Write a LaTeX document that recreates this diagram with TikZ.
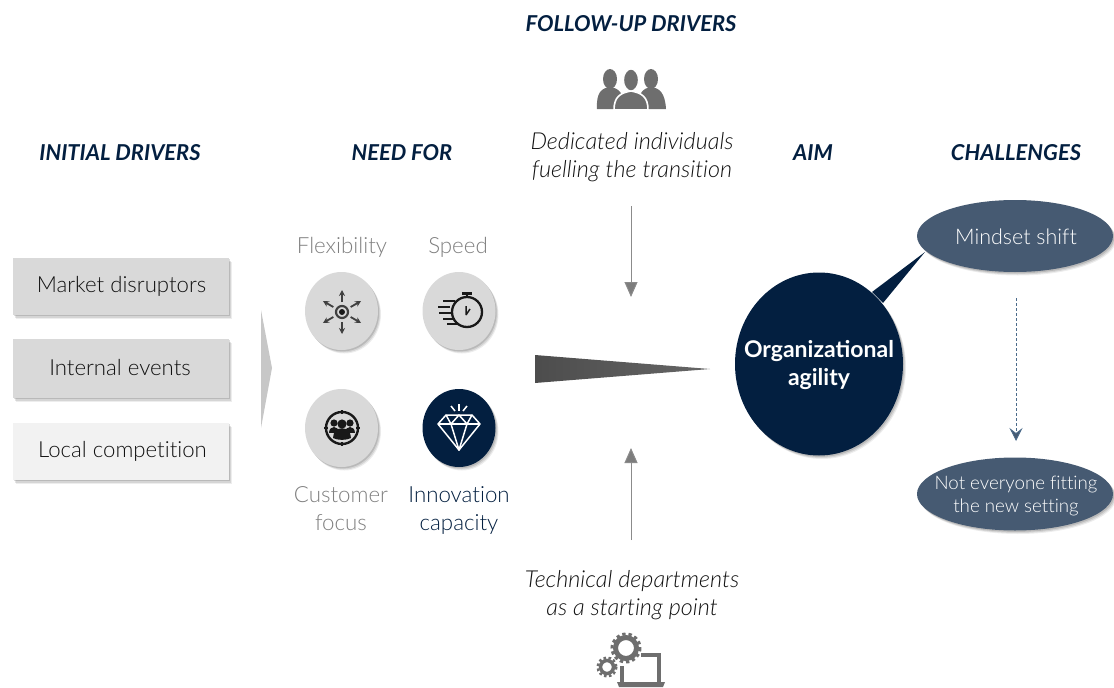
\documentclass[tikz,border=0pt]{standalone}
\usepackage{fontspec}
\setmainfont{Lato}[UprightFont={* Light},ItalicFont={* Light Italic},BoldFont={*},BoldItalicFont={* Bold Italic},Ligatures=NoCommon]
\newfontfamily\boldf{Lato Bold}
\usetikzlibrary{shapes.geometric,shadows,arrows.meta,fadings}
\definecolor{navy}{HTML}{031F40}
\definecolor{slate}{HTML}{465A72}
\definecolor{dashc}{HTML}{4A6A8A}
\definecolor{boxg}{HTML}{D9D9D9}
\definecolor{boxl}{HTML}{F2F2F2}
\definecolor{icong}{HTML}{6E6E6E}
\definecolor{txt}{HTML}{111111}
\definecolor{mut}{HTML}{7F7F7F}
\tikzset{
  softshadow/.style={drop shadow={shadow xshift=3pt,shadow yshift=-3.5pt,fill=black,opacity=.07},
                     drop shadow={shadow xshift=2.2pt,shadow yshift=-2.5pt,fill=black,opacity=.10},
                     drop shadow={shadow xshift=1.2pt,shadow yshift=-1.4pt,fill=black,opacity=.13}},
  header/.style={font=\fontsize{21.9}{26}\selectfont\boldf\itshape,text=navy,inner sep=0pt},
  drvbox/.style={rectangle,minimum width=216pt,inner sep=0pt,softshadow},
  drvtext/.style={text=txt,inner sep=0pt,font=\fontsize{22.2}{28}\selectfont},
  needcirc/.style={ellipse,minimum width=73pt,minimum height=78pt,inner sep=0pt,fill=boxg,softshadow},
  needlab/.style={align=center,text=mut,inner sep=0pt,font=\fontsize{22.3}{28}\selectfont},
  sidelab/.style={align=center,text=txt,inner sep=0pt,font=\fontsize{23.4}{28}\selectfont\itshape},
  chall/.style={ellipse,minimum width=196pt,fill=slate,inner sep=0pt,softshadow},
  flow/.style={draw=icong!80,line width=1pt,-{Triangle[length=15pt,width=13pt,fill=icong!90]}},
}
\begin{document}
\begin{tikzpicture}[x=1pt,y=-1pt]
\useasboundingbox (0,0) rectangle (1114,688);
% headers
\node[header] (h1) at (120,153) {INITIAL DRIVERS};
\node[header] (h2) at (402,153) {NEED FOR};
\node[header] (h3) at (631,24) {FOLLOW-UP DRIVERS};
\node[header] (h4) at (813,153) {AIM};
\node[header] (h5) at (1016,153) {CHALLENGES};
% driver boxes
\node[drvbox,fill=boxg,minimum height=57pt] (b1) at (121,286.5) {};
\node[drvbox,fill=boxg,minimum height=59pt] (b2) at (121,368.5) {};
\node[drvbox,fill=boxl,minimum height=57pt] (b3) at (121,451.5) {};
\node[drvtext] (bt1) at (121.5,286) {Market disruptors};
\node[drvtext] (bt2) at (120,368) {Internal events};
\node[drvtext] (bt3) at (122.5,451) {Local competition};
% chevron
\fill[fill=black!22] (261,310) -- (272,368) -- (261,428) -- cycle;
% need circles
\node[needcirc] (c1) at (341.5,311) {};
\node[needcirc] (c2) at (459,311) {};
\node[needcirc] (c3) at (341.5,428) {};
\node[needcirc,fill=navy] (c4) at (459,428) {};
\node[needlab] (l1) at (342,247.5) {Flexibility};
\node[needlab] (l2) at (458,247.5) {Speed};
\node[needlab] (l3) at (341,509) {Customer\\focus};
\node[needlab,text=navy] (l4) at (459,511) {Innovation\\capacity};
% flexibility icon
\begin{scope}[shift={(342,312)}]
  \draw[black!75,line width=2.2pt] (0,0) circle (6);
  \fill[black!90] (0,0) circle (3);
  \foreach \a in {-90,90,-30,30,150,210}
    \draw[black!75,line width=1.8pt,-{Stealth[length=6pt,width=6pt]}] (\a:10) -- (\a:22);
\end{scope}
% stopwatch icon
\begin{scope}[shift={(467,312)},black!90]
  \draw[line width=2.3pt] (0,0) circle (15);
  \draw[line width=2.4pt] (0,-15) -- (0,-18);
  \draw[line width=2.4pt] (-5,-18.5) -- (5,-18.5);
  \draw[line width=1.5pt] (-1,3) -- (-1,-6) (-1,3) -- (3,-3);
  \foreach \y/\x in {-11/-24,-5/-29,1/-28,7/-24,12/-20}
    \draw[line width=2.4pt] (\x,\y) -- (\x+12,\y);
\end{scope}
% customer icon
\begin{scope}[shift={(342,428)},black!90]
  \draw[line width=2.4pt] (0,0) circle (16);
  \foreach \a in {0,90,180,270} \draw[line width=1.5pt] (\a:14) -- (\a:18);
  \fill (-8,-5) circle (3.6) (8,-5) circle (3.6);
  \fill (-13,5) .. controls (-13,-3) and (-3,-3) .. (-3,5) -- cycle;
  \fill (13,5) .. controls (13,-3) and (3,-3) .. (3,5) -- cycle;
  \fill (0,-4) circle (4.6);
  \fill (-9,10) .. controls (-9,-3) and (9,-3) .. (9,10) .. controls (4,12.5) and (-4,12.5) .. (-9,10) -- cycle;
\end{scope}
% diamond icon
\begin{scope}[white,line width=1.5pt,line join=round]
  \draw (446,415) -- (472,415) -- (480,424) -- (459,450) -- (438,424) -- cycle;
  \draw (438,424) -- (480,424);
  \draw (446,415) -- (451,424) -- (459,415) -- (467,424) -- (472,415);
  \draw (451,424) -- (459,450) -- (467,424);
  \draw (459,404) -- (459,411);
  \draw (451,406) -- (455,411);
  \draw (467,406) -- (463,411);
\end{scope}
% wedge
\shade[left color=black!70,right color=black!60] (535,355) -- (710,369) -- (535,383) -- cycle;
% follow-up drivers
\begin{scope}[icong]
  \fill (610,79) ellipse (7 and 10);
  \fill (651,79) ellipse (7 and 10);
  \fill (597,109) .. controls (596,92) and (602,88) .. (610,87) .. controls (618,88) and (624,92) .. (625,109) -- cycle;
  \fill (637,109) .. controls (638,92) and (644,88) .. (651,87) .. controls (659,88) and (665,92) .. (666,109) -- cycle;
  \fill[draw=white,line width=1.6pt] (614,110) .. controls (614,97) and (620,93) .. (631,91) .. controls (642,93) and (648,97) .. (648,110) -- cycle;
  \fill[draw=white,line width=1.2pt] (631,80) ellipse (7.5 and 11);
\end{scope}
\node[sidelab] (t1) at (632,157.5) {Dedicated individuals\\fuelling the transition};
\coordinate (a1s) at (631,206);
\coordinate (a1e) at (631,297);
\draw[flow] (a1s) -- (a1e);
\node[sidelab] (t2) at (632,595) {Technical departments\\as a starting point};
\coordinate (a2s) at (631,540);
\coordinate (a2e) at (631,448);
\draw[flow] (a2s) -- (a2e);
% gears + laptop
\begin{scope}[icong]
  \draw[line width=5pt] (626,648) circle (10.5);
  \draw[line width=3pt,dash pattern=on 3.3pt off 2.9pt] (626,648) circle (14);
  \draw[line width=3.5pt] (607,667) circle (6.5);
  \draw[line width=2.5pt,dash pattern=on 2.6pt off 2.4pt] (607,667) circle (9.3);
  \draw[line width=3.5pt] (622,666) -- (622,683);
  \draw[line width=3.5pt] (641,655) -- (659,655) -- (659,683);
  \fill (617,682) -- (665,682) -- (663,687) -- (619,687) -- cycle;
\end{scope}
% aim
\node[ellipse,minimum width=168pt,minimum height=183pt,fill=navy,inner sep=0pt,softshadow] (aim) at (819,364) {};
\fill[navy] (872,292) -- (925,252) -- (883,303) -- cycle;
\node[text=white,align=center,inner sep=0pt,font=\fontsize{23}{28}\selectfont\boldf] (aimt) at (819,365.5) {Organizational\\agility};
% challenges
\node[chall,minimum height=72pt] (m1) at (1015,236) {};
\node[chall,minimum height=73pt] (m2) at (1015,494) {};
\node[text=white,inner sep=0pt,font=\fontsize{21.5}{27}\selectfont] (mt1) at (1016,236.5) {Mindset shift};
\node[text=white,align=center,inner sep=0pt,font=\fontsize{18.7}{23.5}\selectfont] (mt2) at (1016,496) {Not everyone fitting\\the new setting};
\coordinate (d1) at (1016,298);
\coordinate (d2) at (1016,441);
\draw[draw=dashc,line width=.8pt,dash pattern=on 3pt off 2pt,-{Stealth[length=13pt,width=13pt,inset=5pt,fill=slate]}] (d1) -- (d2);
\end{tikzpicture}
\end{document}
